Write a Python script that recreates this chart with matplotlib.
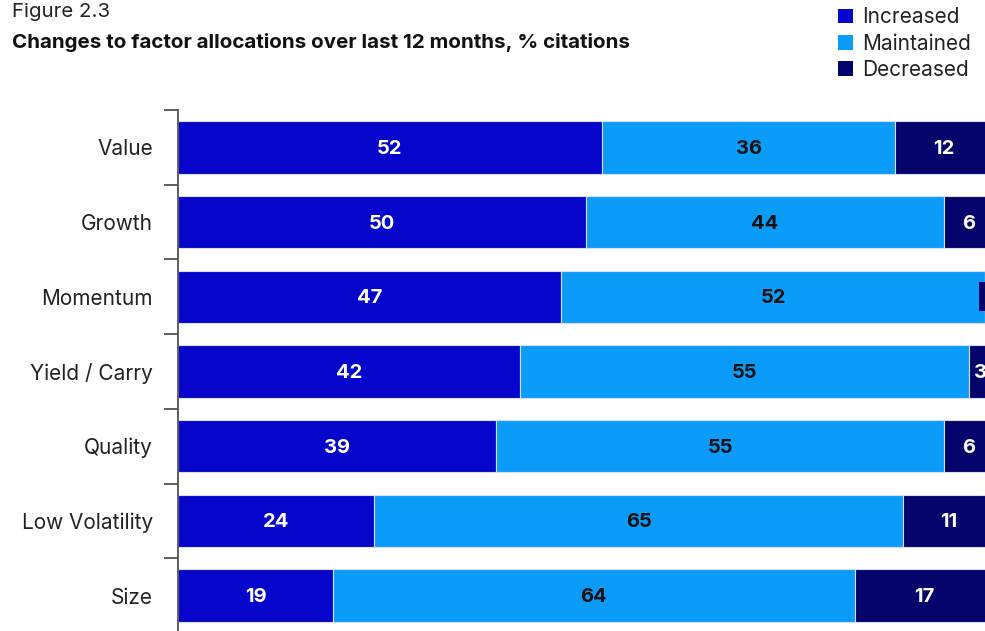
import numpy as np
import matplotlib
matplotlib.use('Agg')
import matplotlib.pyplot as plt
from matplotlib.patches import Patch

plt.rcParams['font.family'] = ['Inter', 'DejaVu Sans']

# données
factors = ['Value', 'Growth', 'Momentum', 'Yield / Carry', 'Quality', 'Low Volatility', 'Size']
increased = [52, 50, 47, 42, 39, 24, 19]
maintained = [36, 44, 52, 55, 55, 65, 64]
decreased = [12, 6, 1, 3, 6, 11, 17]
series_names = ['Increased', 'Maintained', 'Decreased']

colors = ['#0505cc', '#0a9cf8', '#03036b']
text_colors = ['white', '#111111', 'white']

fig = plt.figure(figsize=(9.85, 6.31), dpi=100)
ax = fig.add_axes([178/985, -2/631, 807/985, 523/631])

y = np.arange(len(factors))
left = np.zeros(len(factors))
for vals, col, tcol in zip([increased, maintained, decreased], colors, text_colors):
    vals = np.array(vals, dtype=float)
    ax.barh(y, vals, left=left, height=0.7, color=col, edgecolor='#d8ddf0', linewidth=0.8)
    for yi, (l, v) in enumerate(zip(left, vals)):
        if v >= 2:
            ax.text(l + v / 2, yi + 0.02, f'{int(v)}', ha='center', va='center',
                    color=tcol, fontsize=14.5, fontweight='bold')
        else:
            # petite étiquette coupée au bord
            ax.text(l + v / 2, yi, f'{int(v)}', ha='center', va='center',
                    color=tcol, fontsize=14.5, fontweight='bold', clip_on=False,
                    bbox=dict(facecolor=col, edgecolor='none', pad=4))
    left += vals

ax.set_xlim(0, 99)
ax.set_ylim(len(factors) - 0.5, -0.5)

# ticks aux limites des catégories, étiquettes au centre
ax.set_yticks(np.arange(len(factors) + 1) - 0.5)
ax.set_yticklabels([])
ax.set_yticks(y, minor=True)
ax.set_yticklabels(factors, minor=True, fontsize=15, color='#222222')
ax.tick_params(axis='y', which='major', length=10, width=1.2, color='#444444', direction='out')
ax.tick_params(axis='y', which='minor', length=0, pad=18)
ax.set_xticks([])

for s in ['top', 'right', 'bottom']:
    ax.spines[s].set_visible(False)
ax.spines['left'].set_color('#444444')
ax.spines['left'].set_linewidth(1.2)

fig.text(0.012, 0.995, 'Figure 2.3', ha='left', va='top', fontsize=14.7, color='#222222')
fig.text(0.012, 0.948, 'Changes to factor allocations over last 12 months, % citations',
         ha='left', va='top', fontsize=14.8, fontweight='bold', color='#111111')

handles = [Patch(facecolor=c, edgecolor='none') for c in colors]
fig.legend(handles, series_names, loc='upper left', bbox_to_anchor=(830/985, 1 + 1/631),
           frameon=False, fontsize=15, handlelength=0.7, handleheight=0.7,
           handletextpad=0.45, labelspacing=0.3, borderaxespad=0, labelcolor='#222222')

plt.savefig('out.png', dpi=100)
